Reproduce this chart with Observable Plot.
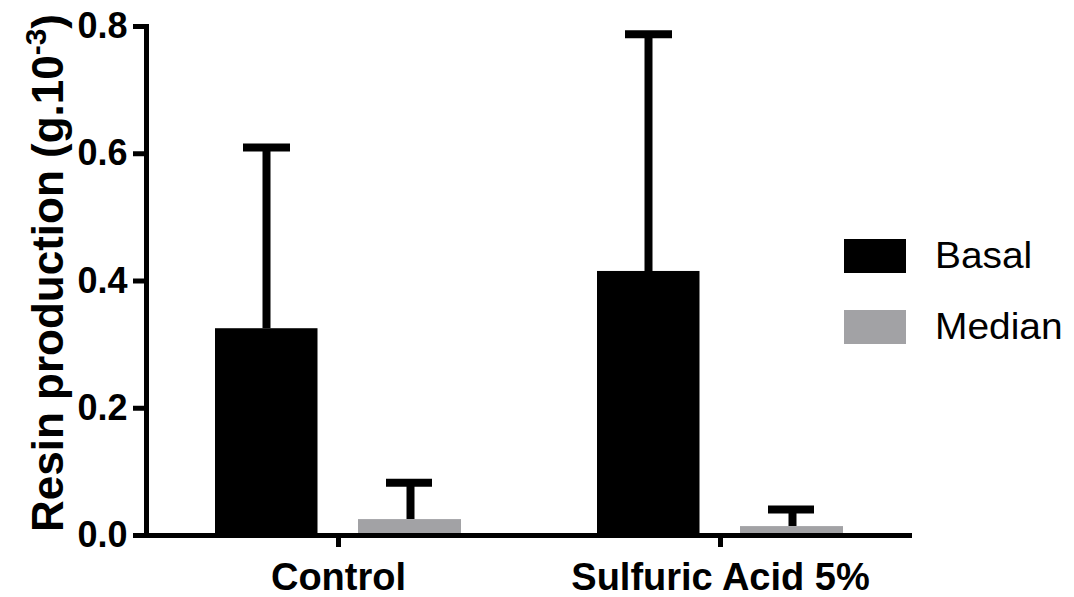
<!DOCTYPE html>
<html>
<head>
<meta charset="utf-8">
<script src="https://cdn.jsdelivr.net/npm/d3@7"></script>
<script src="https://cdn.jsdelivr.net/npm/@observablehq/plot@0.6"></script>
<style>
  body { margin: 0; background: #fff; }
  #wrap { position: relative; width: 1074px; height: 597px; font-family: "Liberation Sans", Arial, sans-serif; }
  .legend { position: absolute; left: 844px; top: 239px; }
  .item { position: absolute; left: 0; height: 34px; display: flex; align-items: center; white-space: nowrap; }
  .sw { width: 62px; height: 34px; display: inline-block; }
  .lab { font-size: 36px; margin-left: 29px; display: inline-block; transform: scaleX(1.08); transform-origin: left center; color: #000; }
</style>
</head>
<body>
<div id="wrap"></div>
<script>
const groups = ["Control", "Sulfuric Acid 5%"];
const series = ["Basal", "Median"];
const basalMean = [0.325, 0.415];
const basalSD = [0.285, 0.373];
const medianMean = [0.025, 0.014];
const medianSD = [0.058, 0.027];
const yTicks = [0, 0.2, 0.4, 0.6, 0.8];
const colors = ["#000000", "#a2a2a5"];
const titleMain = "Resin production (g.10";
const titleSup = "-3";
const titleEnd = ")";

const basalRows = groups.map((g, i) => ({group: g, series: "Basal", value: basalMean[i], sd: basalSD[i]}));
const medianRows = groups.map((g, i) => ({group: g, series: "Median", value: medianMean[i], sd: medianSD[i]}));

const plot = Plot.plot({
  width: 1074,
  height: 597,
  marginLeft: 146,
  marginRight: 162,
  marginTop: 26,
  marginBottom: 62,
  style: {fontFamily: "Liberation Sans, Arial, sans-serif", fontSize: "36px", fontWeight: "bold", color: "#000", background: "#fff"},
  x: {type: "band", domain: groups, paddingInner: 0.357, paddingOuter: 0.18, axis: null},
  y: {domain: [0, 0.8], axis: null},
  color: {domain: series, range: colors},
  marks: [
    Plot.ruleX(basalRows, {x: "group", y1: "value", y2: d => d.value + d.sd, dx: -72, stroke: "#000", strokeWidth: 8}),
    Plot.ruleX(medianRows, {x: "group", y1: "value", y2: d => d.value + d.sd, dx: 72, stroke: "#000", strokeWidth: 8}),
    Plot.tickY(basalRows, {x: "group", y: d => d.value + d.sd, insetLeft: 28, insetRight: 171, stroke: "#000", strokeWidth: 8}),
    Plot.tickY(medianRows, {x: "group", y: d => d.value + d.sd, insetLeft: 171, insetRight: 29, stroke: "#000", strokeWidth: 8}),
    Plot.barY(basalRows, {x: "group", y: "value", fill: "series", insetRight: 143.5}),
    Plot.barY(medianRows, {x: "group", y: "value", fill: "series", insetLeft: 143}),
    Plot.frame({anchor: "left", stroke: "#000", strokeWidth: 5}),
    Plot.ruleY([0], {stroke: "#000", strokeWidth: 5}),
    Plot.axisY({ticks: yTicks, tickFormat: d3.format(".1f"), tickSize: 13, tickPadding: 6, stroke: "#000", strokeWidth: 5, fontSize: 36, fontWeight: "bold", label: null}),
    Plot.axisX({tickSize: 12, tickPadding: 16, stroke: "#000", strokeWidth: 5, fontSize: 38, fontWeight: "bold", label: null}),
    Plot.text([titleMain + titleSup + titleEnd], {frameAnchor: "left", rotate: -90, dx: -84, dy: -8, fontSize: 44, fontWeight: "bold", lineAnchor: "bottom", textAnchor: "middle", fill: "#000"})
  ]
});

// superscript in title
d3.select(plot).selectAll("text").filter(function() { return this.textContent === titleMain + titleSup + titleEnd; })
  .each(function() {
    const t = d3.select(this);
    t.text(null);
    t.append("tspan").text(titleMain);
    t.append("tspan").attr("font-size", 30).attr("dy", -17).text(titleSup);
    t.append("tspan").attr("dy", 17).text(titleEnd);
  });

const wrap = document.getElementById("wrap");
wrap.appendChild(plot);

const legend = document.createElement("div");
legend.className = "legend";
series.forEach((s, i) => {
  const item = document.createElement("div");
  item.className = "item";
  item.style.top = (i * 71) + "px";
  const sw = document.createElement("span");
  sw.className = "sw";
  sw.style.background = colors[i];
  const lab = document.createElement("span");
  lab.className = "lab";
  lab.textContent = s;
  item.appendChild(sw);
  item.appendChild(lab);
  legend.appendChild(item);
});
wrap.appendChild(legend);
</script>
</body>
</html>
